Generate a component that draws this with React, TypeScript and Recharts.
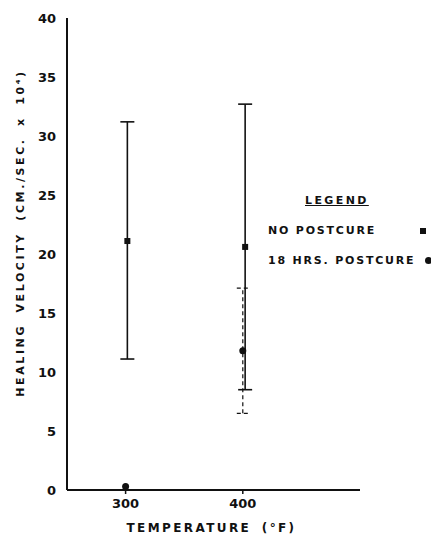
import React from "react";
import { ScatterChart, Scatter, XAxis, YAxis, ErrorBar, Label } from "recharts";

const xTicks = [300, 400];
const yTicks = [0, 5, 10, 15, 20, 25, 30, 35, 40];

const noPostcureX = [301.5, 402];
const noPostcureMean = [21.1, 20.6];
const noPostcureLow = [11.1, 8.5];
const noPostcureHigh = [31.2, 32.7];

const postcureX = [300, 400];
const postcureMean = [0.3, 11.8];
const postcureLow: (number | null)[] = [null, 6.5];
const postcureHigh: (number | null)[] = [null, 17.1];

const noPostcureData = noPostcureX.map((x, i) => ({
  x,
  y: noPostcureMean[i],
  err: [noPostcureMean[i] - noPostcureLow[i], noPostcureHigh[i] - noPostcureMean[i]],
}));

const postcureData = postcureX.map((x, i) => ({
  x,
  y: postcureMean[i],
  err:
    postcureLow[i] == null
      ? null
      : [postcureMean[i] - (postcureLow[i] as number), (postcureHigh[i] as number) - postcureMean[i]],
}));

const INK = "#111";
const FONT = "'DejaVu Sans', 'Liberation Sans', sans-serif";

const SquareDot = (props: any) => {
  const { cx, cy } = props;
  if (cx == null || cy == null) return null;
  return <rect x={cx - 3} y={cy - 3} width={6} height={6} fill={INK} />;
};

const CircleDot = (props: any) => {
  const { cx, cy } = props;
  if (cx == null || cy == null) return null;
  return <circle cx={cx} cy={cy} r={3.5} fill={INK} />;
};

const YLabel = (props: any) => {
  const vb = props.viewBox || {};
  const x = (vb.x ?? 17) + 3;
  const y = 233;
  return (
    <text
      x={x}
      y={y}
      transform={`rotate(-90, ${x}, ${y})`}
      textAnchor="middle"
      dominantBaseline="central"
      style={{ fill: INK, fontSize: 11, fontWeight: 700, fontFamily: FONT, letterSpacing: 2.6, wordSpacing: 5 }}
    >
      HEALING VELOCITY (CM./SEC. x 10⁴)
    </text>
  );
};

const XLabel = (props: any) => {
  const vb = props.viewBox || {};
  const x = (vb.x ?? 67) + (vb.width ?? 293) / 2 - 2;
  return (
    <text
      x={x}
      y={532}
      textAnchor="middle"
      style={{ fill: INK, fontSize: 12, fontWeight: 700, fontFamily: FONT, letterSpacing: 2.4, wordSpacing: 4 }}
    >
      TEMPERATURE (°F)
    </text>
  );
};

export default function App() {
  return (
    <div style={{ position: "absolute", left: 0, top: 0, width: 431, height: 537, background: "#fff" }}>
      <ScatterChart
        width={431}
        height={537}
        margin={{ top: 18, right: 71, bottom: 0, left: 17 }}
      >
        <XAxis
          type="number"
          dataKey="x"
          domain={[250, 500]}
          ticks={xTicks}
          allowDataOverflow
          height={47}
          axisLine={{ stroke: INK, strokeWidth: 2 }}
          tickLine={{ stroke: INK, strokeWidth: 1.5 }}
          tickSize={4}
          tickMargin={5}
          tick={{ fill: INK, fontSize: 13, fontWeight: 700, fontFamily: FONT }}
        >
          <Label content={XLabel} />
        </XAxis>
        <YAxis
          type="number"
          dataKey="y"
          domain={[0, 40]}
          ticks={yTicks}
          width={50}
          axisLine={{ stroke: INK, strokeWidth: 2 }}
          tickLine={false}
          tickMargin={5}
          tick={{ fill: INK, fontSize: 13, fontWeight: 700, fontFamily: FONT }}
        >
          <Label content={YLabel} />
        </YAxis>
        <Scatter data={noPostcureData} shape={SquareDot} isAnimationActive={false}>
          <ErrorBar dataKey="err" direction="y" width={7} stroke={INK} strokeWidth={1.6} />
        </Scatter>
        <Scatter data={postcureData} shape={CircleDot} isAnimationActive={false}>
          <ErrorBar dataKey="err" direction="y" width={6} stroke={INK} strokeWidth={1.2} strokeDasharray="4 3" />
        </Scatter>
      </ScatterChart>
      <div
        style={{
          position: "absolute",
          left: 268,
          top: 194,
          fontFamily: FONT,
          fontWeight: 700,
          fontSize: 11,
          color: INK,
          letterSpacing: 1.8,
          whiteSpace: "nowrap",
        }}
      >
        <div style={{ marginLeft: 37, textDecoration: "underline", letterSpacing: 2.4, height: 22 }}>LEGEND</div>
        <div style={{ position: "relative", height: 30, lineHeight: "30px" }}>
          NO POSTCURE
          <span style={{ position: "absolute", left: 152, top: 12, width: 6, height: 6, background: INK }} />
        </div>
        <div style={{ position: "relative", height: 30, lineHeight: "30px" }}>
          18 HRS. POSTCURE
          <span style={{ position: "absolute", left: 157, top: 11, width: 7, height: 7, borderRadius: 4, background: INK }} />
        </div>
      </div>
    </div>
  );
}
